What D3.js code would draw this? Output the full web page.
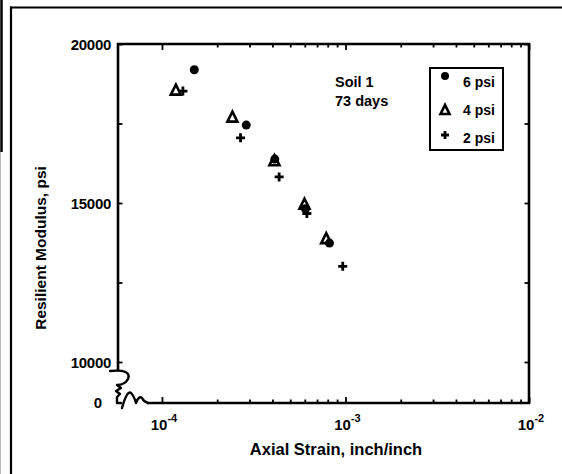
<!DOCTYPE html>
<html><head><meta charset="utf-8">
<script src="https://cdn.jsdelivr.net/npm/d3@7"></script>
<style>
html,body{margin:0;padding:0;background:#fff;}
svg{display:block;}
text{font-family:"Liberation Sans",Arial,Helvetica,sans-serif;font-weight:bold;fill:#000;}
</style></head>
<body>
<script>
// ---- data ----
const strain6 = [1.50e-4, 2.88e-4, 4.12e-4, 6.05e-4, 8.18e-4];
const modulus6 = [19190, 17450, 16380, 14820, 13740];
const strain4 = [1.19e-4, 2.42e-4, 4.10e-4, 5.98e-4, 7.85e-4];
const modulus4 = [18550, 17700, 16330, 14960, 13880];
const strain2 = [1.30e-4, 2.68e-4, 4.35e-4, 6.16e-4, 9.66e-4];
const modulus2 = [18520, 17050, 15820, 14670, 13010];
const seriesLabels = ["6 psi", "4 psi", "2 psi"];
const xDomain = [5.76e-5, 1e-2];
const yDomain = [10000, 20000];
const xMajorTicks = [1e-4, 1e-3, 1e-2];
const xTickExponents = ["-4", "-3", "-2"];
const yTicks = [10000, 12500, 15000, 17500, 20000];
const yTickLabels = [10000, 15000, 20000];
const yBreakLabel = "0";
const noteLines = ["Soil 1", "73 days"];
const xTitle = "Axial Strain, inch/inch";
const yTitle = "Resilient Modulus, psi";

const W = 562, H = 474;
const L = 118, R = 529, T = 44, B = 403;
const svg = d3.select("body").append("svg").attr("width", W).attr("height", H);

const x = d3.scaleLog().domain(xDomain).range([L, R]);
const y = d3.scaleLinear().domain(yDomain).range([362, T]);

// page frame lines (scan edges)
svg.append("line").attr("x1",1.5).attr("x2",1.5).attr("y1",0).attr("y2",152).attr("stroke","#000").attr("stroke-width",2.5);
svg.append("line").attr("x1",0.5).attr("x2",0.5).attr("y1",152).attr("y2",H).attr("stroke","#bbb").attr("stroke-width",1);
svg.append("line").attr("x1",10).attr("x2",W).attr("y1",7.5).attr("y2",7.5).attr("stroke","#000").attr("stroke-width",2.2);
svg.append("line").attr("x1",11).attr("x2",11).attr("y1",6.5).attr("y2",H).attr("stroke","#000").attr("stroke-width",2.2);

// minor x tick values
const xMinor = [];
for (let e = -4; e < -2; e++) for (let m = 2; m <= 9; m++) xMinor.push(m * Math.pow(10, e));

const g = svg.append("g");
// ticks via axes (inward)
function tickAxis(axis, transform) {
  const a = g.append("g").attr("transform", transform).call(axis);
  a.select(".domain").remove();
  a.selectAll("text").remove();
  a.selectAll("line").attr("stroke","#000").attr("stroke-width",1.8);
  return a;
}
tickAxis(d3.axisBottom(x).tickValues(xMajorTicks).tickSizeInner(-6).tickSizeOuter(0).tickFormat(""), `translate(0,${B})`);
tickAxis(d3.axisBottom(x).tickValues(xMinor).tickSizeInner(-3.5).tickSizeOuter(0).tickFormat(""), `translate(0,${B})`);
tickAxis(d3.axisTop(x).tickValues(xMajorTicks).tickSizeInner(-6).tickSizeOuter(0).tickFormat(""), `translate(0,${T})`);
tickAxis(d3.axisTop(x).tickValues(xMinor).tickSizeInner(-3.5).tickSizeOuter(0).tickFormat(""), `translate(0,${T})`);
tickAxis(d3.axisLeft(y).tickValues(yTicks).tickSizeInner(-4.5).tickSizeOuter(0).tickFormat(""), `translate(${L},0)`);
tickAxis(d3.axisRight(y).tickValues(yTicks).tickSizeInner(-4.5).tickSizeOuter(0).tickFormat(""), `translate(${R},0)`);

// plot frame with axis break
const frame = d3.path();
frame.moveTo(L, 371); frame.lineTo(L, T); frame.lineTo(R, T); frame.lineTo(R, B); frame.lineTo(147, B);
svg.append("path").attr("d", frame.toString()).attr("fill","none").attr("stroke","#000").attr("stroke-width",2.6).attr("stroke-linejoin","miter");
// break squiggles
svg.append("path").attr("d","M110,371 Q132,369 128,379 Q125,385 117,385 L121,388 L116,391 L120,394 L117,397 L117,403 L121,403")
  .attr("fill","none").attr("stroke","#000").attr("stroke-width",2.4).attr("stroke-linejoin","round").attr("stroke-linecap","round");
svg.append("path").attr("d","M122,408 Q127,390 131,393 Q134,396 136,403 Q139,395 142,398 Q144,402 148,403")
  .attr("fill","none").attr("stroke","#000").attr("stroke-width",2.4).attr("stroke-linejoin","round").attr("stroke-linecap","round");

// y tick labels
svg.selectAll("text.ylab").data(yTickLabels).enter().append("text")
  .attr("class","ylab").attr("x", L - 7).attr("y", d => y(d) + 1).attr("dy","0.36em")
  .attr("text-anchor","end").style("font-size","15px").style("letter-spacing","-0.3px").text(d => d);
svg.append("text").attr("x", 102).attr("y", B).attr("dy","0.36em").attr("text-anchor","end")
  .style("font-size","15px").text(yBreakLabel);

// x tick labels
xMajorTicks.forEach((v, i) => {
  const t = svg.append("text").attr("x", x(v) + 2).attr("y", 430).attr("text-anchor","middle").style("font-size","15px");
  t.append("tspan").text("10");
  t.append("tspan").attr("dy", -8).style("font-size","11px").text(xTickExponents[i]);
});

// axis titles
svg.append("text").attr("x", 336).attr("y", 455).attr("text-anchor","middle").style("font-size","16.5px").text(xTitle);
svg.append("text").attr("transform","translate(46,248) rotate(-90)").attr("text-anchor","middle").style("font-size","15.5px").text(yTitle);

// annotation
noteLines.forEach((s, i) => {
  svg.append("text").attr("x", 335).attr("y", 87 + i * 18.5).style("font-size","14.5px").text(s);
});

// markers
function drawCircle(sel, cx, cy, r) { sel.append("circle").attr("cx",cx).attr("cy",cy).attr("r",r).attr("fill","#000"); }
function drawTri(sel, cx, cy, s) {
  const h = s * 0.9;
  sel.append("path").attr("d", `M${cx},${cy - h/2 - 1}L${cx + s/2},${cy + h/2}L${cx - s/2},${cy + h/2}Z`)
    .attr("fill","#fff").attr("stroke","#000").attr("stroke-width",2.6).attr("stroke-linejoin","miter");
}
function drawPlus(sel, cx, cy, s) {
  sel.append("path").attr("d", `M${cx - s/2},${cy}H${cx + s/2}M${cx},${cy - s/2}V${cy + s/2}`)
    .attr("stroke","#000").attr("stroke-width",2.8).attr("fill","none");
}
const pts = svg.append("g");
strain4.forEach((v, i) => drawTri(pts, x(v), y(modulus4[i]), 10));
strain6.forEach((v, i) => drawCircle(pts, x(v), y(modulus6[i]), 4.5));
strain2.forEach((v, i) => drawPlus(pts, x(v), y(modulus2[i]), 9));

// legend
const lg = svg.append("g");
lg.append("rect").attr("x",430).attr("y",68).attr("width",73).attr("height",82).attr("fill","#fff").attr("stroke","#000").attr("stroke-width",2);
drawCircle(lg, 445, 76, 4);
drawTri(lg, 445, 110, 9);
drawPlus(lg, 445, 135, 8);
[86.5, 115, 143].forEach((by, i) => {
  lg.append("text").attr("x", 463).attr("y", by).style("font-size","14px").text(seriesLabels[i]);
});
</script>
</body></html>
